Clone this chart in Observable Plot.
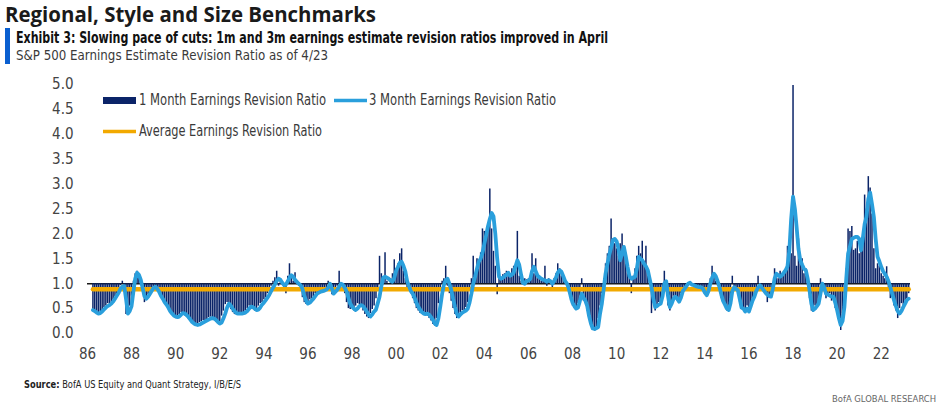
<!DOCTYPE html>
<html><head><meta charset="utf-8">
<script src="https://cdn.jsdelivr.net/npm/d3@7"></script>
<script src="https://cdn.jsdelivr.net/npm/@observablehq/plot@0.6"></script>
<style>
body{margin:0;background:#fff;}
#wrap{position:relative;width:945px;height:413px;overflow:hidden;font-family:"Liberation Sans Narrow","DejaVu Sans Condensed",sans-serif;}
#chart{position:absolute;left:0;top:70px;}
#deco{position:absolute;left:0;top:0;}
</style></head>
<body>
<div id="wrap">
<div id="chart"></div>
<svg id="deco" width="945" height="413"></svg>
</div>
<script>
// ---- data ----
const title = "Regional, Style and Size Benchmarks";
const exhibit = "Exhibit 3: Slowing pace of cuts: 1m and 3m earnings estimate revision ratios improved in April";
const subtitle = "S&P 500 Earnings Estimate Revision Ratio as of 4/23";
const sourceLabel = "Source:";
const sourceText = " BofA US Equity and Quant Strategy, I/B/E/S";
const brand = "BofA GLOBAL RESEARCH";
const seriesNames = ["1 Month Earnings Revision Ratio", "3 Month Earnings Revision Ratio", "Average Earnings Revision Ratio"];
const firstMonth = "1986-04-01";
const averageRatio = 0.89;
const yTicks = [0, 0.5, 1, 1.5, 2, 2.5, 3, 3.5, 4, 4.5, 5];
const xTickYears = [1986,1988,1990,1992,1994,1996,1998,2000,2002,2004,2006,2008,2010,2012,2014,2016,2018,2020,2022];

// 1-month revision ratio, monthly from Apr 1986 to Apr 2023
const oneMonth = [
 .45,.42,.40,.38,.44,.46,.52,.55,.60,                 // 1986 Apr-Dec
 .58,.62,.68,.74,.80,.85,.96,1.05,.92,.38,.40,.55,    // 1987
 .75,1.05,1.20,1.25,1.15,1.10,.98,.62,.66,.78,.84,.86,// 1988
 .92,.96,.90,.80,.72,.66,.60,.55,.48,.40,.36,.33,     // 1989
 .30,.36,.38,.42,.40,.35,.32,.28,.24,.20,.18,.17,     // 1990
 .20,.22,.24,.26,.25,.28,.32,.33,.30,.26,.22,.20,     // 1991
 .24,.35,.45,.58,.62,.52,.48,.42,.38,.40,.42,.38,     // 1992
 .42,.40,.46,.50,.55,.52,.48,.45,.50,.55,.60,.62,     // 1993
 .68,.72,.80,.86,.95,1.05,1.12,1.25,.95,1.05,.98,.92, // 1994
 .80,1.15,1.40,1.10,1.05,1.22,.98,.95,.85,.72,.62,.58,// 1995
 .62,.68,.70,.74,.80,.82,.86,.85,.88,.90,.92,1.05,    // 1996
 .85,.78,.82,.88,.95,1.25,.95,.92,.80,.62,.50,.48,    // 1997
 .50,.45,.55,.60,.58,.52,.45,.38,.33,.30,.40,.48,     // 1998
 .55,.70,.85,1.55,1.20,1.10,1.62,1.05,1.00,1.10,1.20,1.48, // 1999
 1.30,1.40,1.60,1.70,1.25,1.10,.90,.85,.80,.70,.60,.50,    // 2000
 .45,.40,.38,.42,.38,.35,.30,.25,.18,.15,.30,.60,     // 2001
 .85,1.05,1.10,1.35,.95,.80,.65,.50,.38,.30,.35,.42,  // 2002
 .46,.44,.52,.62,.85,1.10,1.55,1.20,1.50,1.45,1.62,2.10,   // 2003
 2.05,2.00,2.15,2.90,2.10,1.65,1.35,.78,1.15,1.10,1.18,1.20,// 2004
 1.25,1.15,1.20,1.30,1.35,1.25,2.05,1.15,1.05,.98,1.10,1.08,// 2005
 1.10,1.15,1.60,1.20,1.50,1.10,1.15,1.05,1.08,1.35,.95,1.10,// 2006
 1.00,.85,1.10,1.20,1.40,1.30,1.15,1.10,1.00,.95,.85,.65,  // 2007
 .55,.50,.48,.60,.75,1.10,.65,.60,.45,.30,.15,.08,    // 2008
 .05,.10,.30,.55,.80,1.10,1.40,1.60,1.75,2.30,1.90,1.80,   // 2009
 1.70,1.55,1.80,2.00,1.65,1.40,1.20,1.10,.80,1.15,1.30,1.55,// 2010
 1.75,1.60,1.85,1.45,1.75,1.20,1.00,.40,.60,.45,.55,.62,   // 2011
 .62,.90,1.25,.95,.55,.45,.65,.75,.70,.65,.60,.80,    // 2012
 .90,.88,.95,1.02,1.00,.97,.96,.95,.93,.92,.90,.85,   // 2013
 .78,.75,.90,1.10,1.35,1.15,1.05,.95,.85,.70,.60,.52, // 2014
 .45,.50,.70,1.15,.88,.90,.85,.62,.48,.52,.40,.55,    // 2015
 .42,.60,.70,.78,.90,1.15,.95,.88,.85,.78,.62,.75,    // 2016
 .80,1.00,1.30,1.15,1.10,1.25,1.20,1.25,1.30,1.75,1.55,1.60,// 2017
 4.98,1.55,1.35,1.90,1.40,1.50,1.20,1.30,.95,.70,.45,.42,  // 2018
 .55,.50,.70,1.10,.85,.90,.70,.75,.80,.65,.70,.50,    // 2019
 .40,.25,.06,.40,.80,1.30,2.10,2.05,2.15,1.67,1.70,1.85,   // 2020
 1.60,1.80,2.00,2.78,2.50,3.15,2.92,2.40,1.70,1.30,1.40,1.35,// 2021
 1.20,1.15,1.10,1.34,.85,.70,.75,.55,.45,.30,.50,.60, // 2022
 .55,.65,.70,.80                                      // 2023 Jan-Apr
];

// 3-month revision ratio, monthly from Apr 1986 to Apr 2023
const threeMonth = [
 .47,.45,.42,.40,.41,.44,.48,.52,.55,                 // 1986 Apr-Dec
 .57,.60,.64,.70,.76,.82,.90,.94,.95,.70,.40,.45,     // 1987
 .55,.85,1.10,1.22,1.18,1.08,.92,.75,.70,.74,.80,.86, // 1988
 .92,.94,.90,.84,.76,.70,.63,.58,.52,.45,.40,.36,     // 1989
 .34,.33,.34,.38,.41,.40,.37,.33,.28,.23,.20,.18,     // 1990
 .17,.18,.20,.22,.24,.26,.28,.30,.31,.30,.27,.23,     // 1991
 .20,.22,.30,.40,.52,.60,.56,.50,.45,.41,.40,.40,     // 1992
 .40,.41,.42,.45,.50,.54,.53,.50,.47,.48,.52,.58,     // 1993
 .62,.67,.72,.78,.85,.92,.98,1.05,1.10,1.08,1.02,.97, // 1994
 .98,1.05,1.12,1.17,1.14,1.08,1.04,1.00,.97,.90,.76,.66,   // 1995
 .60,.62,.66,.70,.75,.80,.82,.84,.85,.86,.88,.92,     // 1996
 1.00,.90,.80,.84,.88,.94,1.00,.98,.92,.85,.72,.60,   // 1997
 .54,.50,.47,.50,.55,.57,.55,.50,.44,.38,.34,.38,     // 1998
 .44,.48,.60,.74,.95,1.12,1.14,1.12,1.10,1.06,1.04,1.12,   // 1999
 1.26,1.34,1.42,1.44,1.36,1.25,1.05,.95,.85,.80,.72,.62,   // 2000
 .54,.48,.43,.40,.39,.40,.38,.33,.28,.20,.17,.30,     // 2001
 .54,.80,.97,1.07,1.10,1.00,.88,.70,.54,.40,.34,.38,  // 2002
 .42,.44,.46,.50,.62,.80,1.00,1.14,1.30,1.44,1.50,1.62,    // 2003
 1.80,1.98,2.15,2.30,2.42,2.35,2.00,1.50,1.14,1.10,1.12,1.15,// 2004
 1.18,1.22,1.16,1.18,1.22,1.35,1.47,1.38,1.18,1.02,1.00,1.05,// 2005
 1.06,1.10,1.25,1.34,1.25,1.16,1.13,1.10,1.08,1.07,1.04,1.07,// 2006
 1.05,1.00,1.05,1.12,1.22,1.27,1.24,1.15,1.05,1.00,.90,.75, // 2007
 .62,.55,.50,.52,.65,.80,.72,.66,.55,.35,.20,.10,     // 2008
 .09,.11,.13,.40,.60,.90,1.20,1.40,1.58,1.72,1.88,1.90,    // 2009
 1.85,1.70,1.47,1.60,1.74,1.55,1.34,1.15,1.10,1.12,1.14,1.30,// 2010
 1.54,1.50,1.47,1.40,1.35,1.27,1.10,.93,.70,.53,.55,.58,   // 2011
 .60,.75,1.00,1.05,.75,.53,.60,.70,.74,.70,.64,.72,   // 2012
 .85,.90,.95,1.00,1.02,.98,.97,.95,.94,.93,.93,.90,   // 2013
 .82,.77,.85,1.00,1.12,1.20,1.15,1.05,.93,.78,.65,.58,// 2014
 .50,.47,.60,.85,.93,.90,.87,.70,.52,.50,.44,.50,     // 2015
 .44,.55,.66,.74,.85,.92,.97,.92,.87,.82,.78,.75,     // 2016
 .74,.90,1.10,1.20,1.17,1.14,1.17,1.22,1.27,1.35,1.67,2.30,// 2017
 2.75,2.50,2.14,1.70,1.47,1.38,1.30,1.27,1.10,.87,.60,.47, // 2018
 .50,.55,.60,.80,1.00,.92,.80,.78,.76,.74,.74,.62,    // 2019
 .47,.30,.17,.25,.53,1.10,1.60,1.75,1.90,1.92,1.94,1.94,   // 2020
 1.90,1.67,1.90,2.20,2.34,2.70,2.83,2.60,2.34,1.90,1.54,1.45,// 2021
 1.34,1.25,1.20,1.14,1.05,.93,.80,.67,.55,.45,.40,.45,// 2022
 .53,.60,.67,.70                                      // 2023 Jan-Apr
];

// ---- build table ----
const start = new Date(firstMonth + "T00:00:00Z");
const rows = oneMonth.map((v, i) => ({
  date: d3.utcMonth.offset(start, i),
  m1: v,
  m3: threeMonth[i],
  avg: averageRatio
}));

const navy = "#0b2468", blue = "#2a9fdc", orange = "#f2a900", ink = "#3a3a3a";
const font = '"Liberation Sans Narrow","DejaVu Sans Condensed",sans-serif';

const chart = Plot.plot({
  width: 945,
  height: 300,
  marginLeft: 87,
  marginRight: 35,
  marginTop: 14,
  marginBottom: 37,
  style: {fontFamily: font, fontSize: "15px", color: "#444", background: "transparent"},
  x: {
    type: "utc",
    domain: [new Date(Date.UTC(1986,0,1)), new Date(Date.UTC(2023,4,1))],
    ticks: xTickYears.map(y => new Date(Date.UTC(y,0,1))),
    tickFormat: d3.utcFormat("%y"),
    tickSize: 0, tickPadding: 15, label: null
  },
  y: {
    domain: [0, 5],
    ticks: yTicks,
    tickFormat: d3.format(".1f"),
    tickSize: 0, tickPadding: 14, label: null
  },
  marks: [
    Plot.ruleY([1], {stroke: "#1a1a1a", strokeWidth: 1.6}),
    Plot.ruleX(rows, {x: "date", y1: 1, y2: "m1", stroke: navy, strokeWidth: 1.5}),
    Plot.line(rows, {x: "date", y: "avg", stroke: orange, strokeWidth: 4.5}),
    Plot.line(rows, {x: "date", y: "m3", stroke: blue, strokeWidth: 3.8, strokeLinejoin: "round"})
  ]
});
document.getElementById("chart").appendChild(chart);

// ---- header, legend, footer ----
const deco = d3.select("#deco");
deco.append("text").attr("x", 5).attr("y", 22).attr("font-family", '"Open Sans",sans-serif')
  .attr("font-weight", 700).attr("font-size", 21).attr("fill", "#1a1a1a")
  .attr("textLength", 371).attr("lengthAdjust", "spacingAndGlyphs").text(title);
deco.append("rect").attr("x", 5).attr("y", 28).attr("width", 5).attr("height", 36).attr("fill", "#0a5fd0");
deco.append("text").attr("x", 16).attr("y", 43).attr("font-family", font)
  .attr("font-weight", 700).attr("font-size", 15).attr("fill", "#111")
  .attr("textLength", 592).attr("lengthAdjust", "spacingAndGlyphs").text(exhibit);
deco.append("text").attr("x", 16).attr("y", 60).attr("font-family", font)
  .attr("font-size", 14).attr("fill", ink)
  .attr("textLength", 312).attr("lengthAdjust", "spacingAndGlyphs").text(subtitle);

// legend
deco.append("rect").attr("x", 103).attr("y", 97).attr("width", 33).attr("height", 7).attr("fill", navy);
deco.append("text").attr("x", 139).attr("y", 105).attr("font-family", font).attr("font-size", 15).attr("fill", ink)
  .attr("textLength", 187).attr("lengthAdjust", "spacingAndGlyphs").text(seriesNames[0]);
deco.append("line").attr("x1", 334).attr("x2", 367).attr("y1", 100.5).attr("y2", 100.5).attr("stroke", blue).attr("stroke-width", 3.5);
deco.append("text").attr("x", 369).attr("y", 105).attr("font-family", font).attr("font-size", 15).attr("fill", ink)
  .attr("textLength", 187).attr("lengthAdjust", "spacingAndGlyphs").text(seriesNames[1]);
deco.append("line").attr("x1", 103).attr("x2", 136).attr("y1", 131.5).attr("y2", 131.5).attr("stroke", orange).attr("stroke-width", 3.5);
deco.append("text").attr("x", 139).attr("y", 136).attr("font-family", font).attr("font-size", 15).attr("fill", ink)
  .attr("textLength", 183).attr("lengthAdjust", "spacingAndGlyphs").text(seriesNames[2]);

// footer
const src = deco.append("text").attr("x", 24).attr("y", 388).attr("font-family", font).attr("font-size", 10).attr("fill", "#222")
  .attr("textLength", 217).attr("lengthAdjust", "spacingAndGlyphs");
src.append("tspan").attr("font-weight", 700).text(sourceLabel);
src.append("tspan").text(sourceText);
deco.append("text").attr("x", 832).attr("y", 402).attr("font-family", font)
  .attr("font-size", 9.5).attr("fill", "#666").attr("textLength", 104).attr("lengthAdjust", "spacingAndGlyphs").text(brand);
</script>
</body></html>
